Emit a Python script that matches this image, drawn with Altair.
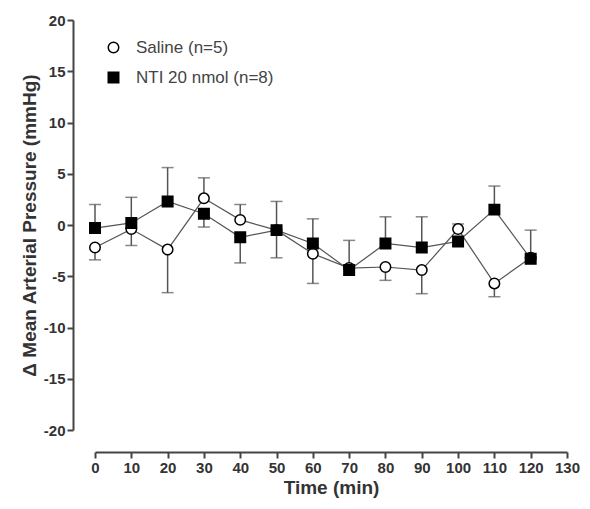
import altair as alt
import pandas as pd

# ---- data ----
time = [0, 10, 20, 30, 40, 50, 60, 70, 80, 90, 100, 110, 120]
series_names = ["Saline (n=5)", "NTI 20 nmol (n=8)"]

saline_mean = [-2.2, -0.4, -2.4, 2.6, 0.5, -0.5, -2.8, -4.2, -4.1, -4.4, -0.4, -5.7, -3.2]
saline_up = [0, 0, 0, 2.0, 1.5, 0, 0, 0, 0, 0, 0.5, 0, 0]
saline_down = [1.2, 1.6, 4.2, 0, 0, 2.7, 2.9, 0, 1.3, 2.3, 0, 1.3, 0]

nti_mean = [-0.3, 0.2, 2.3, 1.1, -1.2, -0.5, -1.8, -4.4, -1.8, -2.2, -1.6, 1.5, -3.3]
nti_up = [2.3, 2.5, 3.3, 0, 0, 2.8, 2.4, 2.9, 2.6, 3.0, 0, 2.3, 2.8]
nti_down = [0, 0, 0, 1.3, 2.5, 0, 0, 0, 0, 0, 0, 0, 0]

x_ticks = list(range(0, 131, 10))
y_ticks = list(range(-20, 21, 5))

rows = []
for name, means, ups, downs in [
    (series_names[0], saline_mean, saline_up, saline_down),
    (series_names[1], nti_mean, nti_up, nti_down),
]:
    for t, m, u, d in zip(time, means, ups, downs):
        rows.append(dict(series=name, time=t, mean=m, hi=m + u, lo=m - d,
                         has_up=u > 0, has_down=d > 0))
df = pd.DataFrame(rows)

FONT = "Liberation Sans"

x_axis = alt.Axis(values=x_ticks, tickCount=14, title="Time (min)", offset=22,
                  labelExpr="datum.value", labelOverlap=False, labelBound=False,
                  labelFlush=False, labelPadding=2, titlePadding=3)
x_scale = alt.Scale(domain=[0, 130], nice=False, zero=False)
y_axis = alt.Axis(values=y_ticks, title="Δ Mean Arterial Pressure (mmHg)", offset=22,
                  labelExpr="datum.value", labelOverlap=False,
                  labelPadding=2, titlePadding=4)
y_scale = alt.Scale(domain=[-20, 20], nice=False)


def X():
    return alt.X("time:Q", scale=x_scale, axis=x_axis)


def Y(field):
    return alt.Y(field, scale=y_scale, axis=y_axis)


base = alt.Chart(df)

lines = base.mark_line(color="#555", strokeWidth=1.2).encode(
    x=X(), y=Y("mean:Q"), detail="series:N", order="time:Q"
)

up_rule = base.transform_filter(alt.datum.has_up).mark_rule(color="#555", strokeWidth=1.5).encode(
    x=X(), y=Y("mean:Q"), y2="hi:Q"
)
up_cap = base.transform_filter(alt.datum.has_up).mark_tick(
    color="#555", orient="horizontal", size=12, thickness=1.5
).encode(x=X(), y=Y("hi:Q"))
down_rule = base.transform_filter(alt.datum.has_down).mark_rule(color="#555", strokeWidth=1.5).encode(
    x=X(), y=Y("mean:Q"), y2="lo:Q"
)
down_cap = base.transform_filter(alt.datum.has_down).mark_tick(
    color="#555", orient="horizontal", size=12, thickness=1.5
).encode(x=X(), y=Y("lo:Q"))

legend = alt.Legend(
    title=None, orient="none", legendX=10, legendY=19, padding=0,
    labelFont=FONT, labelFontSize=17, labelColor="#444", labelOffset=14,
    rowPadding=12, symbolStrokeWidth=1.5, symbolSize=110,
)

points = base.mark_point(filled=True, strokeWidth=1.5, size=110, opacity=1).encode(
    x=X(),
    y=Y("mean:Q"),
    shape=alt.Shape("series:N", scale=alt.Scale(domain=series_names, range=["circle", "square"]),
                    legend=legend),
    fill=alt.Fill("series:N", scale=alt.Scale(domain=series_names, range=["white", "black"]),
                  legend=legend),
    stroke=alt.Stroke("series:N", scale=alt.Scale(domain=series_names, range=["black", "black"]),
                      legend=legend),
    order=alt.Order("series:N", sort="descending"),
)

chart = (
    alt.layer(lines, up_rule, up_cap, down_rule, down_cap, points)
    .properties(
        width=472, height=410,
        autosize=alt.AutoSizeParams(type="none"),
        padding={"left": 87, "top": 12, "right": 15, "bottom": 71},
    )
    .configure_view(stroke=None)
    .configure_axis(
        grid=False, domainColor="#444", domainWidth=2, tickColor="#444", tickWidth=2,
        tickSize=6, labelFont=FONT, labelFontWeight="bold", labelFontSize=15,
        labelColor="#333", titleFont=FONT, titleFontWeight="bold", titleFontSize=19,
        titleColor="#333",
    )
)

chart.save("out.html", embed_options={"renderer": "svg", "actions": False})
